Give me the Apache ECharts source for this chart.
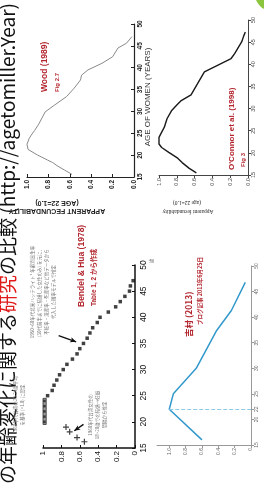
<!DOCTYPE html>
<html>
<head>
<meta charset="UTF-8">
<title>年齢と妊孕力</title>
<style>
  html, body { margin: 0; padding: 0; background: #fff; }
  #chart { width: 264px; height: 484px; }
</style>
</head>
<body>
<div id="chart"></div>
<script src="https://cdn.jsdelivr.net/npm/echarts@6/dist/echarts.min.js"></script>
<script>
// 各研究の年齢別妊孕力 (年齢, 22歳=1.0)
const woodAge = [15.6, 16.6, 17.6, 18.3, 18.9, 20.0, 21.3, 22.5, 23.8, 24.6, 25.6, 27.1, 28.5, 29.9, 31.5, 33.4, 35.3, 37.2, 38.3, 39.5, 41.0, 42.5, 44.5, 45.6, 47.1]
const woodFec = [0.58, 0.65, 0.72, 0.76, 0.81, 0.90, 0.99, 1.00, 0.98, 0.96, 0.93, 0.89, 0.86, 0.83, 0.74, 0.63, 0.56, 0.50, 0.49, 0.43, 0.30, 0.20, 0.15, 0.07, 0.02]

const oconnorAge = [15.5, 16.5, 17.8, 18.8, 20.1, 21.2, 22.0, 23.5, 24.3, 25.8, 27.7, 29.5, 30.8, 31.8, 33.1, 35.5, 38.3, 41.3, 42.4, 45.1, 46.3, 47.3]
const oconnorFec = [0.58, 0.66, 0.74, 0.79, 0.89, 0.97, 1.00, 1.00, 0.98, 0.94, 0.91, 0.86, 0.80, 0.75, 0.64, 0.57, 0.49, 0.19, 0.15, 0.07, 0.05, 0.03]

const bendelAge = [25, 26, 27, 28, 29, 30, 31, 32, 33, 34, 35, 36, 37, 38, 39, 40, 41, 42, 43, 44, 45, 46, 47]
const bendelFec = [0.95, 0.90, 0.88, 0.85, 0.82, 0.78, 0.74, 0.68, 0.63, 0.60, 0.56, 0.52, 0.49, 0.46, 0.41, 0.38, 0.29, 0.21, 0.16, 0.11, 0.06, 0.05, 0.02]
const bendelBoxAge = [20, 21, 22, 23, 24]
const bendelBoxFec = [0.985, 0.985, 0.985, 0.985, 0.985]
const bendelPlusAge = [16.2, 17.0, 18.1, 19.0]
const bendelPlusFec = [0.55, 0.63, 0.71, 0.75]

const yoshAge = [16, 22, 25, 30, 37.4, 41.3, 46.8]
const yoshFec = [0.60, 1.00, 0.95, 0.67, 0.42, 0.24, 0.07]

const fecTicks = [0, 0.2, 0.4, 0.6, 0.8, 1.0]
const yoshAgeTicks = [15, 20, 22, 25, 30, 35, 40, 45, 50]

const RED = '#b3262e'
const SANS = "'Liberation Sans', 'Noto Sans CJK JP', sans-serif"
const JP = "'Noto Sans CJK JP', sans-serif"

const pairs = (xs, ys) => xs.map((x, i) => [x, ys[i]])

// 縦書き風 (90度回転) のテキスト
function vText (x, y, text, size, opt = {}) {
  const align = opt.align || 'left'
  return {
    type: 'text', x, y, rotation: Math.PI / 2, silent: true,
    style: {
      text, fontSize: size, fill: opt.color || '#222',
      fontWeight: opt.weight || 'normal', fontFamily: opt.font || SANS,
      lineHeight: opt.lineHeight, rich: opt.rich,
      textAlign: align, align, textVerticalAlign: 'middle', verticalAlign: 'middle'
    }
  }
}
// 上下逆のテキスト
function flipText (x, y, text, size, opt = {}) {
  return {
    type: 'text', x, y, rotation: Math.PI, silent: true,
    style: {
      text, fontSize: size, fill: opt.color || '#222', fontWeight: opt.weight || 'normal',
      fontFamily: opt.font || SANS,
      textAlign: 'center', align: 'center', textVerticalAlign: 'middle', verticalAlign: 'middle'
    }
  }
}

function fecAxis (grid, o) {
  return {
    type: 'value', gridIndex: grid, inverse: true, min: 0, max: o.max || 1, interval: 0.2,
    splitLine: { show: false },
    axisLine: { onZero: false, lineStyle: { color: o.color, width: o.lineWidth || 1 } },
    axisTick: { inside: o.inside, length: 3, lineStyle: { color: o.color }, customValues: o.custom },
    axisLabel: {
      rotate: 90, fontSize: o.fontSize, color: o.labelColor || o.color, margin: o.margin || 3,
      fontWeight: o.weight || 'normal', fontFamily: SANS, customValues: o.custom,
      formatter: o.formatter
    }
  }
}
function ageAxis (grid, o) {
  return {
    type: 'value', gridIndex: grid, position: 'right', min: 15, max: 50, interval: 5,
    splitLine: { show: false },
    axisLine: { onZero: false, lineStyle: { color: o.color, width: o.lineWidth || 1 } },
    axisTick: { inside: o.inside, length: 3, lineStyle: { color: o.color }, customValues: o.custom },
    axisLabel: {
      rotate: 90, fontSize: o.fontSize, color: o.labelColor || o.color, margin: o.margin || 3,
      fontWeight: o.weight || 'normal', fontFamily: SANS, customValues: o.custom
    }
  }
}

const chart = echarts.init(document.getElementById('chart'))
chart.setOption({
  animation: false,
  backgroundColor: '#fff',
  grid: [
    { left: 27, top: 24, width: 107, height: 153 },
    { left: 159, top: 20, width: 89, height: 155 },
    { left: 43, top: 265, width: 92, height: 183 },
    { left: 157, top: 266, width: 94, height: 179 }
  ],
  xAxis: [
    fecAxis(0, { color: '#222', inside: true, fontSize: 6.5, weight: 'bold', lineWidth: 1.2, formatter: v => v.toFixed(1) }),
    fecAxis(1, { color: '#444', fontSize: 5.5, formatter: v => v.toFixed(1) }),
    fecAxis(2, { color: '#111', inside: true, fontSize: 8, lineWidth: 1.5 }),
    fecAxis(3, { color: '#999', labelColor: '#666', fontSize: 5, max: 1.15, custom: fecTicks, formatter: v => v === 0 ? '0' : v.toFixed(1) })
  ],
  yAxis: [
    ageAxis(0, { color: '#222', inside: true, fontSize: 6.5, weight: 'bold', lineWidth: 1.2 }),
    ageAxis(1, { color: '#444', fontSize: 5.5 }),
    ageAxis(2, { color: '#111', inside: true, fontSize: 8.5, lineWidth: 1.5, margin: 4 }),
    ageAxis(3, { color: '#999', labelColor: '#666', fontSize: 5, custom: yoshAgeTicks })
  ],
  series: [
    {
      type: 'line', xAxisIndex: 0, yAxisIndex: 0, data: pairs(woodFec, woodAge),
      showSymbol: false, lineStyle: { color: '#8a8a8a', width: 1 }
    },
    {
      type: 'line', xAxisIndex: 1, yAxisIndex: 1, data: pairs(oconnorFec, oconnorAge),
      showSymbol: false, lineStyle: { color: '#1a1a1a', width: 1.4 }
    },
    {
      type: 'scatter', xAxisIndex: 2, yAxisIndex: 2, data: pairs(bendelFec, bendelAge),
      symbol: 'rect', symbolSize: 3.5, itemStyle: { color: '#111' }
    },
    {
      type: 'scatter', xAxisIndex: 2, yAxisIndex: 2, data: pairs(bendelBoxFec, bendelBoxAge),
      symbol: 'rect', symbolSize: 2.5, itemStyle: { color: '#222' }, z: 3,
      markArea: {
        silent: true,
        itemStyle: { color: '#9a9a9a', borderColor: '#333', borderWidth: 0.8 },
        data: [[{ coord: [1.005, 19.5] }, { coord: [0.965, 24.5] }]]
      }
    },
    {
      type: 'scatter', xAxisIndex: 2, yAxisIndex: 2, data: pairs(bendelPlusFec, bendelPlusAge),
      symbol: 'path://M4,0H6V4H10V6H6V10H4V6H0V4H4Z', symbolSize: 6, itemStyle: { color: '#111' }
    },
    {
      // 注釈の矢印
      type: 'scatter', xAxisIndex: 2, yAxisIndex: 2, data: [], clip: false,
      markLine: {
        silent: true, symbol: ['none', 'arrow'], symbolSize: [4, 6],
        label: { show: false },
        lineStyle: { color: '#111', width: 1.5, type: 'solid' },
        data: [
          [{ coord: [1.14, 22.3] }, { coord: [1.02, 22.3] }],
          [{ coord: [0.56, 19.5] }, { coord: [0.66, 18.3] }],
          [{ coord: [0.83, 36.5] }, { coord: [0.64, 35.3] }]
        ]
      }
    },
    {
      type: 'line', xAxisIndex: 3, yAxisIndex: 3, data: pairs(yoshFec, yoshAge),
      showSymbol: false, lineStyle: { color: '#3399cc', width: 1.5 },
      markLine: {
        silent: true, symbol: ['none', 'none'], label: { show: false },
        lineStyle: { color: '#8ccbe6', width: 1, type: 'dashed' },
        data: [[{ coord: [1.0, 22] }, { coord: [0, 22] }]]
      }
    }
  ],
  graphic: [
    { type: 'circle', shape: { cx: 272, cy: -6, r: 17 }, style: { fill: '#8cc63f' }, silent: true },
    vText(8, 3, '年齢別出生率と妊孕力の年齢変化に関する{r|研究}の比較 (http://agetomiller.Year)', 19,
      { align: 'right', color: '#111', font: JP, rich: { r: { fill: '#e01b1b', fontSize: 19, fontFamily: JP } } }),
    // Wood
    vText(45, 92, 'Wood (1989)', 8.5, { color: RED, weight: 'bold' }),
    vText(57, 92, 'Fig 2.7', 6, { color: RED, weight: 'bold' }),
    vText(148, 97, 'AGE OF WOMEN (YEARS)', 8, { align: 'center', color: '#333' }),
    flipText(57, 211, 'APPARENT FECUNDABILITY', 7, { weight: 'bold' }),
    flipText(57, 203, '(AGE 22=1.0)', 7, { weight: 'bold' }),
    // O'Connor
    vText(232, 170, "O'Connor et al. (1998)", 8, { color: RED, weight: 'bold' }),
    vText(243, 167, 'Fig 3', 6, { color: RED, weight: 'bold' }),
    flipText(188, 211, 'Apparent fecundability', 5.5, { font: "'Liberation Serif', serif" }),
    flipText(187, 202, '(age 22=1.0)', 5.5, { font: "'Liberation Serif', serif" }),
    // Bendel & Hua
    vText(82, 307, 'Bendel & Hua (1978)', 8.5, { color: RED, weight: 'bold' }),
    vText(94, 306, 'Table 1, 2 から作成', 6.5, { color: RED, weight: 'bold' }),
    vText(151, 261, '歳', 4.5, { align: 'center', color: '#777', font: JP }),
    vText(43, 292, '1950~60年代北米ハッテライト¹ 年齢別出生率\n(30代前半までに結婚した女性のみ) を元に、\n不妊率・流産率・死産率など他データから\n代入した確率モデルで推定', 4.5,
      { align: 'center', color: '#777', font: JP, lineHeight: 7 }),
    vText(19, 405, '1960年代台湾の20-24歳平均\nを基準 (=1.0) に設定', 4.5,
      { align: 'center', color: '#777', font: JP, lineHeight: 6.5 }),
    vText(97, 415, '1960年代台湾女性の\n18~20歳での結婚→妊娠\n間隔から推定', 4.5,
      { align: 'center', color: '#777', font: JP, lineHeight: 7 }),
    // 吉村
    vText(189, 337, '吉村 (2013)', 8.5, { color: RED, weight: 'bold', font: JP }),
    vText(200, 325, 'ブログ記事 2013年6月25日', 5.5, { color: RED, weight: 'bold', font: JP })
  ]
})
</script>
</body>
</html>
